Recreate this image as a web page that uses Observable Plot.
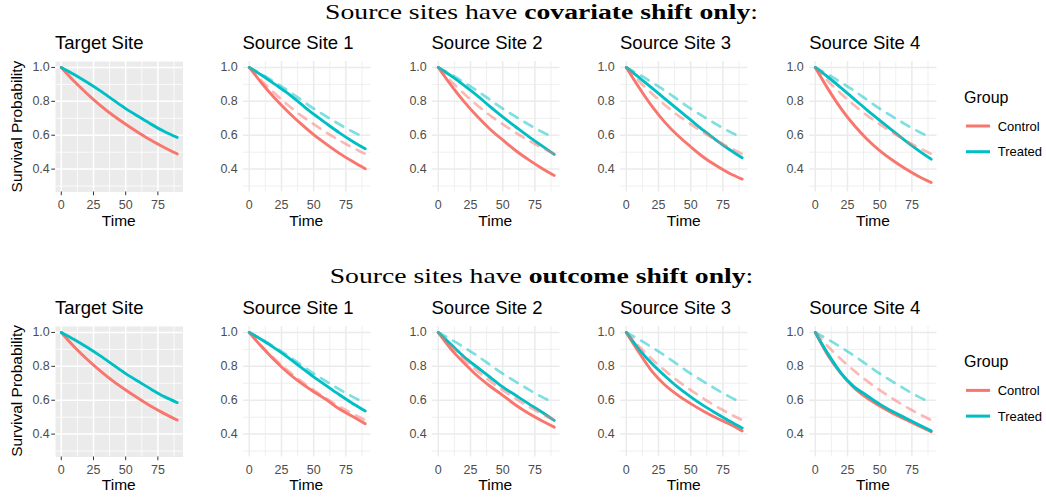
<!DOCTYPE html>
<html><head><meta charset="utf-8">
<script src="https://cdn.jsdelivr.net/npm/d3@7"></script>
<script src="https://cdn.jsdelivr.net/npm/@observablehq/plot@0.6"></script>
<style>
body{margin:0;background:#fff;}
#chart{position:relative;width:1046px;height:497px;overflow:hidden;font-family:"Liberation Sans",Arial,sans-serif;}
#chart svg.panel{position:absolute;overflow:visible;}
#overlay{position:absolute;left:0;top:0;}
</style></head><body><div id="chart"></div>
<script>
// ---- data ----
const times = [0, 10, 20, 30, 40, 50, 60, 70, 80, 90];
const groups = ["Control", "Treated"];
const groupColors = ["#F8766D", "#00BFC4"];
const panelTitles = ["Target Site", "Source Site 1", "Source Site 2", "Source Site 3", "Source Site 4"];
const rowTitlePlain = ["Source sites have ", "Source sites have "];
const rowTitleBold = ["covariate shift only", "outcome shift only"];
const xTicks = [0, 25, 50, 75];
const xMinor = [12.5, 37.5, 62.5, 87.5];
const yTicks = [0.4, 0.6, 0.8, 1.0];
const yMinor = [0.3, 0.5, 0.7, 0.9];

// Row 1: covariate shift only
const covTargetControl = [1, 0.918, 0.845, 0.778, 0.718, 0.665, 0.615, 0.569, 0.528, 0.490];
const covTargetTreated = [1, 0.958, 0.912, 0.863, 0.810, 0.757, 0.710, 0.664, 0.622, 0.587];
const covS1Control = [1, 0.904, 0.817, 0.739, 0.668, 0.603, 0.546, 0.493, 0.446, 0.402];
const covS1Treated = [1, 0.952, 0.900, 0.847, 0.785, 0.724, 0.668, 0.614, 0.565, 0.520];
const covS2Control = [1, 0.894, 0.798, 0.713, 0.637, 0.572, 0.510, 0.456, 0.407, 0.363];
const covS2Treated = [1, 0.950, 0.894, 0.835, 0.770, 0.708, 0.650, 0.593, 0.540, 0.487];
const covS3Control = [1, 0.880, 0.770, 0.676, 0.598, 0.532, 0.470, 0.420, 0.376, 0.341];
const covS3Treated = [1, 0.940, 0.878, 0.815, 0.752, 0.690, 0.628, 0.570, 0.516, 0.467];
const covS4Control = [1, 0.872, 0.757, 0.660, 0.578, 0.509, 0.452, 0.402, 0.358, 0.321];
const covS4Treated = [1, 0.942, 0.880, 0.815, 0.750, 0.688, 0.627, 0.567, 0.511, 0.459];

// Row 2: outcome shift only
const outTargetControl = [1, 0.916, 0.842, 0.775, 0.714, 0.660, 0.610, 0.563, 0.521, 0.483];
const outTargetTreated = [1, 0.958, 0.912, 0.863, 0.810, 0.757, 0.710, 0.664, 0.621, 0.586];
const outS1Control = [1, 0.912, 0.833, 0.762, 0.702, 0.650, 0.602, 0.548, 0.505, 0.461];
const outS1Treated = [1, 0.955, 0.906, 0.853, 0.795, 0.738, 0.685, 0.632, 0.582, 0.536];
const outS2Control = [1, 0.900, 0.820, 0.746, 0.684, 0.629, 0.572, 0.523, 0.480, 0.441];
const outS2Treated = [1, 0.928, 0.856, 0.796, 0.737, 0.678, 0.629, 0.580, 0.532, 0.481];
const outS3Control = [1, 0.880, 0.770, 0.690, 0.630, 0.580, 0.535, 0.495, 0.460, 0.419];
const outS3Treated = [1, 0.900, 0.815, 0.743, 0.677, 0.620, 0.568, 0.522, 0.478, 0.436];
const outS4Control = [1, 0.862, 0.757, 0.674, 0.614, 0.566, 0.524, 0.487, 0.450, 0.414];
const outS4Treated = [1, 0.872, 0.760, 0.680, 0.628, 0.577, 0.533, 0.495, 0.457, 0.419];

// ---- helpers ----
function series(control, treated) {
  return [
    ...times.map((t, i) => ({time: t, surv: control[i], group: groups[0]})),
    ...times.map((t, i) => ({time: t, surv: treated[i], group: groups[1]}))
  ];
}
const rows = [
  [series(covTargetControl, covTargetTreated), series(covS1Control, covS1Treated), series(covS2Control, covS2Treated), series(covS3Control, covS3Treated), series(covS4Control, covS4Treated)],
  [series(outTargetControl, outTargetTreated), series(outS1Control, outS1Treated), series(outS2Control, outS2Treated), series(outS3Control, outS3Treated), series(outS4Control, outS4Treated)]
];

const panelLefts = [55, 242.5, 431.5, 620, 809.2];
const rowTops = [61.3, 325.7];
const rowDy = rowTops[1] - rowTops[0];
const PW = 127.5, PH = 130.5;
const mL = 45, mR = 10, mT = 10, mB = 30;

const chart = document.getElementById("chart");

rows.forEach((row, r) => {
  row.forEach((data, c) => {
    const isTarget = c === 0;
    const gridColor = isTarget ? "#FFFFFF" : "#EBEBEB";
    const marks = [];
    if (isTarget) marks.push(Plot.frame({fill: "#EBEBEB", stroke: "none"}));
    marks.push(
      Plot.gridX(xMinor, {stroke: gridColor, strokeOpacity: 1, strokeWidth: 0.8}),
      Plot.gridY(yMinor, {stroke: gridColor, strokeOpacity: 1, strokeWidth: 0.8}),
      Plot.gridX(xTicks, {stroke: gridColor, strokeOpacity: 1, strokeWidth: 1.5}),
      Plot.gridY(yTicks, {stroke: gridColor, strokeOpacity: 1, strokeWidth: 1.5}),
      Plot.axisX(xTicks, {tickSize: isTarget ? 3.7 : 0, tickPadding: isTarget ? 4.3 : 8, label: null, stroke: "#333333", fill: "#4D4D4D", fontSize: 12.5}),
      Plot.axisY(yTicks, {tickSize: isTarget ? 3.7 : 0, tickPadding: isTarget ? 2 : 5.7, label: null, tickFormat: d3.format(".1f"), stroke: "#333333", fill: "#4D4D4D", fontSize: 12.5}),
      Plot.line(data, {x: "time", y: "surv", stroke: "group", z: "group", curve: "monotone-x", strokeWidth: 2.9})
    );
    if (!isTarget) {
      marks.push(Plot.line(rows[r][0], {x: "time", y: "surv", stroke: "group", z: "group", curve: "monotone-x", strokeWidth: 2.7, strokeOpacity: 0.5, strokeDasharray: "9,8"}));
    }
    const svg = Plot.plot({
      width: mL + PW + mR,
      height: mT + PH + mB,
      marginLeft: mL, marginRight: mR, marginTop: mT, marginBottom: mB,
      style: {fontFamily: "'Liberation Sans', Arial, sans-serif", fontSize: "12.5px", color: "#4D4D4D", background: "transparent", overflow: "visible"},
      x: {domain: [-4.5, 94.5]},
      y: {domain: [0.265, 1.035]},
      color: {domain: groups, range: groupColors},
      marks
    });
    svg.classList.add("panel");
    svg.style.left = (panelLefts[c] - mL) + "px";
    svg.style.top = (rowTops[r] - mT) + "px";
    chart.appendChild(svg);
  });
});

// ---- text overlay: titles, axis titles, legend ----
const ov = d3.select(chart).append("svg").attr("id", "overlay").attr("width", 1046).attr("height", 497)
  .style("font-family", "'Liberation Sans', Arial, sans-serif");

let titleScale = null;
[0, 1].forEach(r => {
  const dy = r * rowDy;
  const g = ov.append("g");
  const t = g.append("text").attr("x", 0).attr("y", 0).attr("text-anchor", "middle")
    .style("font-family", "'Liberation Serif', 'Times New Roman', serif").style("font-size", "22px").attr("fill", "#000");
  t.append("tspan").text(rowTitlePlain[r]);
  t.append("tspan").attr("font-weight", "bold").text(rowTitleBold[r]);
  t.append("tspan").text(":");
  if (titleScale === null) titleScale = 433 / t.node().getComputedTextLength();
  g.attr("transform", `translate(541.5,${18.5 + dy}) scale(${titleScale},1)`);

  panelTitles.forEach((name, c) => {
    ov.append("text").attr("x", panelLefts[c]).attr("y", 49.3 + dy).style("font-size", "18.5px").attr("fill", "#000").text(name);
    ov.append("text").attr("x", panelLefts[c] + PW / 2).attr("y", 225.5 + dy).attr("text-anchor", "middle")
      .style("font-size", "15.5px").attr("fill", "#000").text("Time");
  });

  ov.append("text").attr("transform", `translate(21.5,${rowTops[r] + PH / 2}) rotate(-90)`).attr("text-anchor", "middle")
    .style("font-size", "15.5px").attr("fill", "#000").text("Survival Probability");

  ov.append("text").attr("x", 964).attr("y", 102.7 + dy).style("font-size", "16px").attr("fill", "#000").text("Group");
  groups.forEach((gname, i) => {
    const y = 126 + i * 25.7 + dy;
    ov.append("line").attr("x1", 966).attr("x2", 990).attr("y1", y).attr("y2", y)
      .attr("stroke", groupColors[i]).attr("stroke-width", 3);
    ov.append("text").attr("x", 997.7).attr("y", y + 4.6).style("font-size", "13px").attr("fill", "#000").text(gname);
  });
});
</script></body></html>
